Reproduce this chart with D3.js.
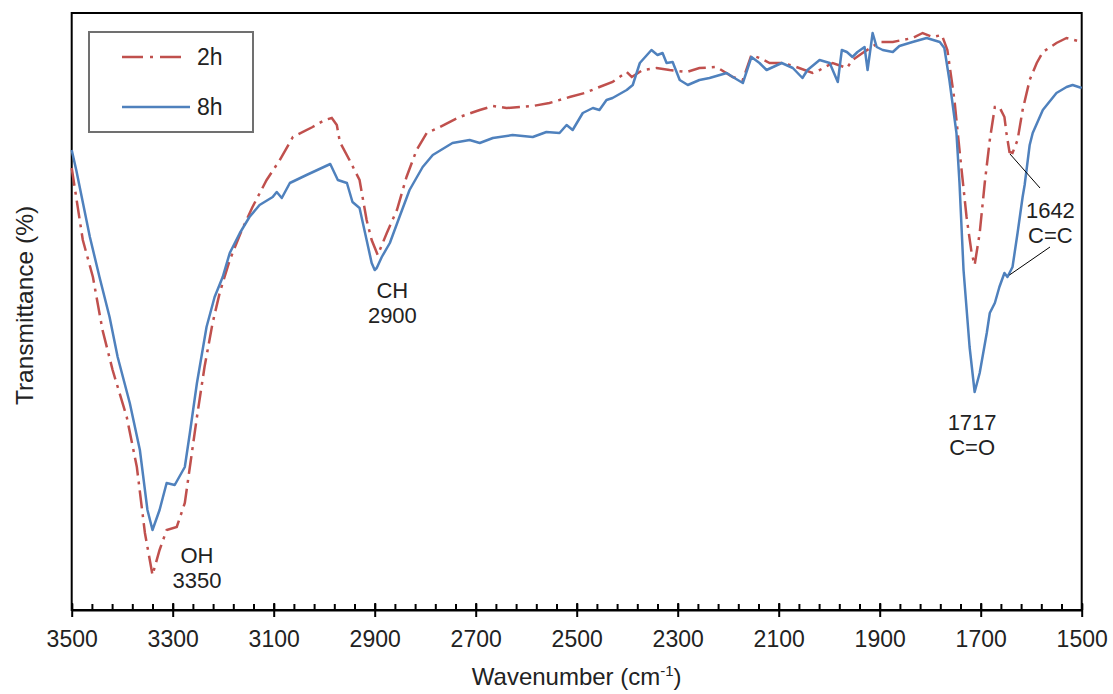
<!DOCTYPE html>
<html>
<head>
<meta charset="utf-8">
<script src="https://cdn.jsdelivr.net/npm/d3@7"></script>
<style>
  body { margin: 0; background: #fff; }
  text { font-family: "Liberation Sans", Arial, sans-serif; fill: #222; }
</style>
</head>
<body>
<script>
const width = 1113;
const height = 694;
const margin = {top: 13, right: 31.3, bottom: 84, left: 71.7};

// 8h spectrum (wavenumber cm-1, transmittance a.u.)
const wn8h = [3500,3491,3464,3445,3425,3409,3385,3365,3350,3340,3326,3312,3296,3276,3266,3252,3233,3217,3201,3187,3167,3148,3128,3102,3094,3084,3068,3035,2988,2973,2955,2944,2930,2916,2906,2900,2896,2886,2870,2851,2831,2805,2785,2746,2712,2692,2666,2627,2587,2560,2534,2520,2508,2488,2468,2455,2441,2429,2401,2389,2375,2352,2340,2330,2322,2310,2296,2280,2257,2237,2203,2191,2171,2154,2138,2124,2094,2072,2053,2043,2019,1999,1983,1975,1965,1954,1944,1930,1924,1914,1906,1894,1874,1861,1835,1807,1781,1772,1762,1748,1742,1734,1722,1712,1702,1688,1682,1672,1663,1653,1647,1637,1627,1617,1613,1603,1597,1577,1550,1530,1518,1500];
const t8h = [46.0,44.0,37.3,33.3,29.3,25.3,20.7,16.0,10.0,8.0,10.0,12.7,12.5,14.3,17.7,22.7,28.3,31.3,33.3,35.7,37.7,39.3,40.5,41.3,41.8,41.2,42.7,43.5,44.6,43.0,42.7,40.8,40.2,37.0,34.7,34.0,34.2,35.3,36.7,39.3,42.0,44.3,45.5,46.7,47.0,46.7,47.2,47.5,47.3,47.8,47.7,48.5,48.0,49.7,50.2,50.0,51.0,51.2,52.0,52.5,54.7,56.0,55.5,55.7,54.7,54.8,53.0,52.5,53.0,53.2,53.7,53.3,52.7,55.3,54.7,54.0,54.7,54.2,53.2,54.0,55.0,54.7,52.8,56.0,55.8,55.3,55.8,56.3,54.0,57.7,56.3,56.0,55.8,56.4,56.8,57.2,56.8,56.2,53.0,47.7,42.7,34.0,26.3,21.8,23.7,27.7,29.7,30.7,32.3,33.7,33.3,34.3,37.7,41.3,42.5,46.5,47.7,50.0,51.7,52.3,52.5,52.2];

// 2h spectrum
const wn2h = [3500,3478,3458,3439,3419,3391,3371,3355,3340,3326,3312,3292,3276,3266,3252,3237,3221,3207,3187,3163,3142,3114,3088,3062,3023,2999,2985,2975,2969,2950,2930,2916,2906,2894,2876,2856,2837,2817,2797,2771,2732,2692,2666,2639,2613,2587,2554,2514,2484,2455,2429,2401,2391,2369,2342,2316,2282,2257,2223,2191,2171,2154,2138,2118,2092,2065,2033,2019,1993,1965,1954,1934,1900,1874,1855,1835,1815,1795,1777,1766,1752,1742,1728,1718,1712,1702,1692,1682,1672,1663,1653,1649,1643,1637,1627,1617,1603,1589,1577,1550,1530,1500];
const t2h = [44.2,37.0,33.3,28.0,24.0,19.3,14.3,7.7,3.5,6.0,8.0,8.3,10.7,14.3,19.3,24.3,28.7,31.7,35.0,38.0,40.3,43.0,45.0,47.3,48.3,49.0,49.2,48.5,46.8,45.0,43.0,39.0,37.0,35.5,37.7,40.0,43.3,46.0,47.7,48.3,49.3,50.0,50.4,50.2,50.3,50.4,50.7,51.3,51.7,52.3,52.8,53.8,53.3,54.0,54.2,54.0,53.8,54.2,54.3,53.3,53.0,55.5,55.2,54.7,54.7,54.3,53.7,54.0,54.7,54.2,55.0,55.7,56.8,56.8,57.0,57.2,57.7,57.3,57.5,56.0,51.0,46.0,39.3,35.7,34.5,37.7,42.7,47.0,50.3,50.3,49.3,47.7,45.8,45.7,47.0,50.0,53.0,54.7,55.8,56.7,57.2,56.8];

const majorTicks = [3500,3300,3100,2900,2700,2500,2300,2100,1900,1700,1500];
const minorTicks = d3.range(3500, 1499, -40);

const seriesNames = ["2h", "8h"];
const seriesColors = ["#C0504D", "#4F81BD"];

// peak labels: text lines and label anchor (wavenumber of label centre)
const peakLabels = [
  {lines: ["OH", "3350"], wn: 3252, base: 563},
  {lines: ["CH", "2900"], wn: 2865, base: 298},
  {lines: ["1717", "C=O"], wn: 1717, base: 430},
  {lines: ["1642", "C=C"], wn: 1562, base: 218}
];

const x = d3.scaleLinear()
  .domain([3500, 1500])
  .range([margin.left, width - margin.right]);
const y = d3.scaleLinear()
  .domain([0, 59.7])
  .range([height - margin.bottom, margin.top]);

const svg = d3.select("body").append("svg")
  .attr("width", width)
  .attr("height", height);

// frame
svg.append("rect")
  .attr("x", margin.left)
  .attr("y", margin.top)
  .attr("width", x(1500) - x(3500))
  .attr("height", y(0) - y(59.7))
  .attr("fill", "none")
  .attr("stroke", "#000")
  .attr("stroke-width", 2);

const line = d3.line()
  .x(d => x(d[0]))
  .y(d => y(d[1]));

svg.append("path")
  .datum(d3.zip(wn2h, t2h))
  .attr("fill", "none")
  .attr("stroke", seriesColors[0])
  .attr("stroke-width", 2.5)
  .attr("stroke-dasharray", "18,6,3,6")
  .attr("d", line);

svg.append("path")
  .datum(d3.zip(wn8h, t8h))
  .attr("fill", "none")
  .attr("stroke", seriesColors[1])
  .attr("stroke-width", 2.5)
  .attr("stroke-linejoin", "round")
  .attr("d", line);

// x axis
const axisY = y(0);
svg.append("g")
  .attr("transform", "translate(0," + axisY + ")")
  .call(d3.axisBottom(x).tickValues(minorTicks).tickSize(-6).tickFormat(""))
  .call(g => g.select(".domain").remove())
  .selectAll("line").attr("stroke-width", 2);

svg.append("g")
  .attr("transform", "translate(0," + axisY + ")")
  .call(d3.axisBottom(x).tickValues(majorTicks).tickSize(-7).tickFormat(""))
  .call(g => g.select(".domain").remove())
  .selectAll("line").attr("stroke-width", 2);

const xAxis = svg.append("g")
  .attr("transform", "translate(0," + axisY + ")")
  .call(d3.axisBottom(x).tickValues(majorTicks).tickSize(7).tickPadding(14)
    .tickSizeOuter(0).tickFormat(d3.format("d")));
xAxis.select(".domain").attr("stroke-width", 2);
xAxis.selectAll("line").attr("stroke-width", 2);
xAxis.selectAll("text")
  .style("font-family", "'Liberation Sans', Arial, sans-serif")
  .style("font-size", "23px")
  .attr("fill", "#222");

// axis titles
const xt = svg.append("text")
  .attr("x", (x(3500) + x(1500)) / 2)
  .attr("y", 685)
  .attr("text-anchor", "middle")
  .style("font-size", "24px");
xt.append("tspan").text("Wavenumber (cm");
xt.append("tspan").attr("dy", -9).style("font-size", "15px").text("-1");
xt.append("tspan").attr("dy", 9).text(")");

svg.append("text")
  .attr("transform", "translate(33," + ((margin.top + axisY) / 2 - 6) + ") rotate(-90)")
  .attr("text-anchor", "middle")
  .style("font-size", "24.5px")
  .text("Transmittance (%)");

// legend
const legend = svg.append("g");
legend.append("rect")
  .attr("x", 89).attr("y", 32)
  .attr("width", 164).attr("height", 100)
  .attr("fill", "#fff")
  .attr("stroke", "#707070")
  .attr("stroke-width", 2);
seriesNames.forEach((name, i) => {
  const ly = 57 + i * 50;
  legend.append("line")
    .attr("x1", 122).attr("x2", i === 0 ? 183 : 190)
    .attr("y1", ly).attr("y2", ly)
    .attr("stroke", seriesColors[i])
    .attr("stroke-width", 2.5)
    .attr("stroke-dasharray", i === 0 ? "21,7,3,7" : null);
  legend.append("text")
    .attr("x", 197).attr("y", ly + 8)
    .style("font-size", "23px")
    .text(name);
});

// peak annotations
peakLabels.forEach(p => {
  p.lines.forEach((s, j) => {
    svg.append("text")
      .attr("x", x(p.wn)).attr("y", p.base + j * 25)
      .attr("text-anchor", "middle")
      .style("font-size", "22px")
      .text(s);
  });
});

// leader lines for 1642
svg.append("line")
  .attr("x1", x(1642)).attr("y1", y(45.7) + 1)
  .attr("x2", 1040).attr("y2", 188)
  .attr("stroke", "#000").attr("stroke-width", 1);
svg.append("line")
  .attr("x1", x(1647) + 2).attr("y1", y(33.3) - 2)
  .attr("x2", 1050).attr("y2", 247)
  .attr("stroke", "#000").attr("stroke-width", 1);
</script>
</body>
</html>
